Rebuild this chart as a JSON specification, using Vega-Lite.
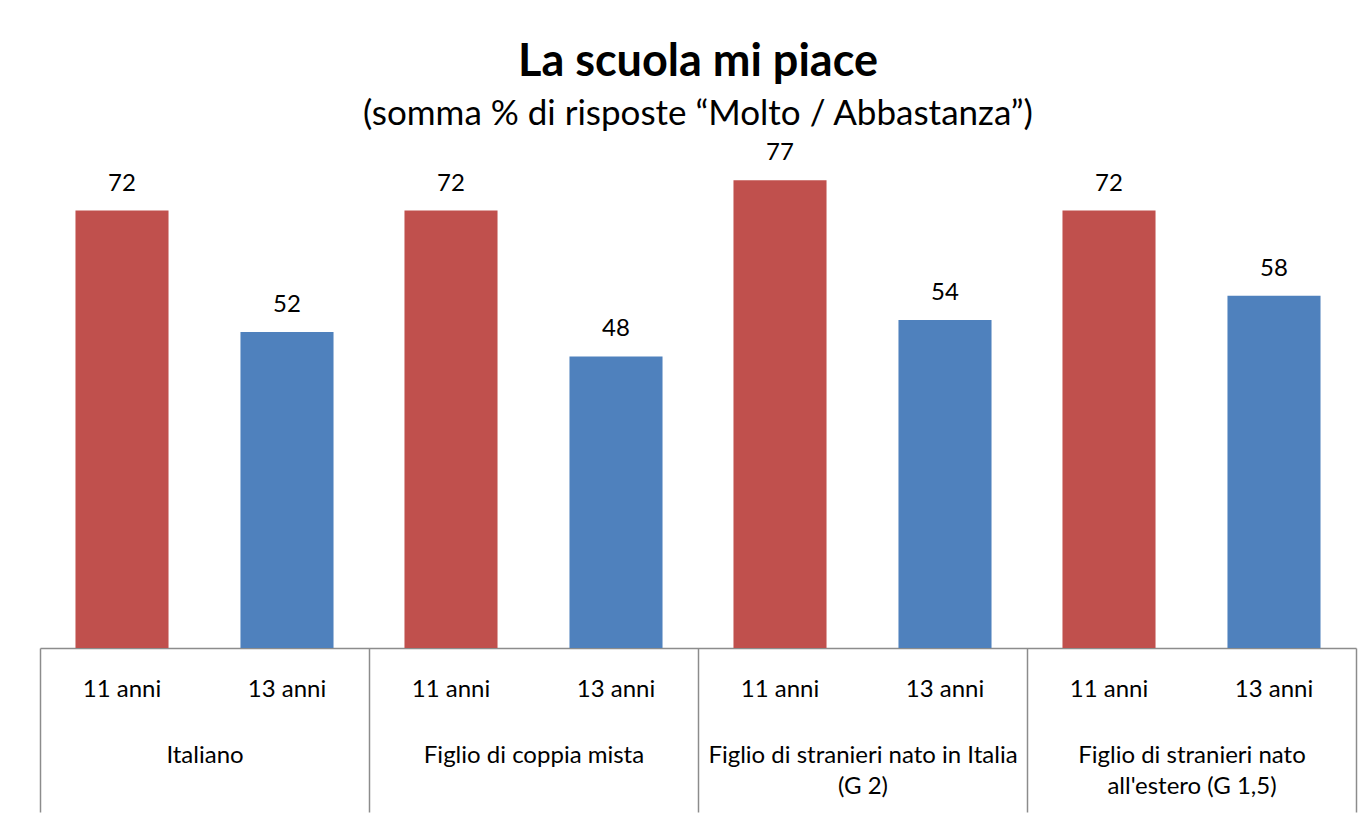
{
  "$schema": "https://vega.github.io/schema/vega-lite/v6.json",
  "autosize": "none",
  "width": 1316,
  "height": 486,
  "padding": {"left": 40, "top": 162, "right": 14, "bottom": 173},
  "background": "white",
  "config": {
    "font": "Lato",
    "view": {"stroke": null}
  },
  "title": {
    "text": "La scuola mi piace",
    "subtitle": "(somma % di risposte “Molto / Abbastanza”)",
    "fontSize": 45,
    "fontWeight": "bold",
    "color": "black",
    "subtitleFontSize": 35,
    "subtitleColor": "black",
    "subtitlePadding": 12,
    "anchor": "middle",
    "frame": "group",
    "offset": 9
  },
  "data": {
    "values": [
      {"group": "Italiano", "age": "11 anni", "value": 72},
      {"group": "Italiano", "age": "13 anni", "value": 52},
      {"group": "Figlio di coppia mista", "age": "11 anni", "value": 72},
      {"group": "Figlio di coppia mista", "age": "13 anni", "value": 48},
      {"group": "Figlio di stranieri nato in Italia (G 2)", "age": "11 anni", "value": 77},
      {"group": "Figlio di stranieri nato in Italia (G 2)", "age": "13 anni", "value": 54},
      {"group": "Figlio di stranieri nato all'estero (G 1,5)", "age": "11 anni", "value": 72},
      {"group": "Figlio di stranieri nato all'estero (G 1,5)", "age": "13 anni", "value": 58}
    ]
  },
  "encoding": {
    "x": {
      "field": "group",
      "type": "nominal",
      "sort": null,
      "scale": {"paddingInner": 0, "paddingOuter": 0},
      "axis": {
        "title": null,
        "labelAngle": 0,
        "domainColor": "#8c8c8c",
        "domainWidth": 1.5,
        "tickColor": "#8c8c8c",
        "tickWidth": 1.5,
        "tickSize": 164,
        "tickBand": "extent",
        "labelPadding": -69,
        "labelBaseline": "top",
        "labelFontSize": 24,
        "labelColor": "black",
        "labelLineHeight": 31,
        "labelLimit": 400,
        "labelExpr": "datum.value == 'Figlio di stranieri nato in Italia (G 2)' ? ['Figlio di stranieri nato in Italia', '(G 2)'] : (datum.value == \"Figlio di stranieri nato all'estero (G 1,5)\" ? ['Figlio di stranieri nato', \"all'estero (G 1,5)\"] : datum.label)"
      }
    },
    "xOffset": {
      "field": "age",
      "type": "nominal",
      "sort": ["11 anni", "13 anni"],
      "scale": {"paddingInner": 0.436, "paddingOuter": 0.215}
    }
  },
  "layer": [
    {
      "mark": {"type": "bar"},
      "encoding": {
        "y": {
          "field": "value",
          "type": "quantitative",
          "scale": {"domain": [0, 80]},
          "axis": null
        },
        "color": {
          "field": "age",
          "type": "nominal",
          "scale": {"domain": ["11 anni", "13 anni"], "range": ["#C0504D", "#4F81BD"]},
          "legend": null
        }
      }
    },
    {
      "mark": {"type": "text", "dy": -27, "fontSize": 24, "color": "black", "baseline": "middle"},
      "encoding": {
        "y": {"field": "value", "type": "quantitative"},
        "text": {"field": "value", "type": "quantitative"}
      }
    },
    {
      "mark": {"type": "text", "dy": 42, "fontSize": 24, "color": "black", "baseline": "middle"},
      "encoding": {
        "y": {"datum": 0},
        "text": {"field": "age", "type": "nominal"}
      }
    }
  ]
}
